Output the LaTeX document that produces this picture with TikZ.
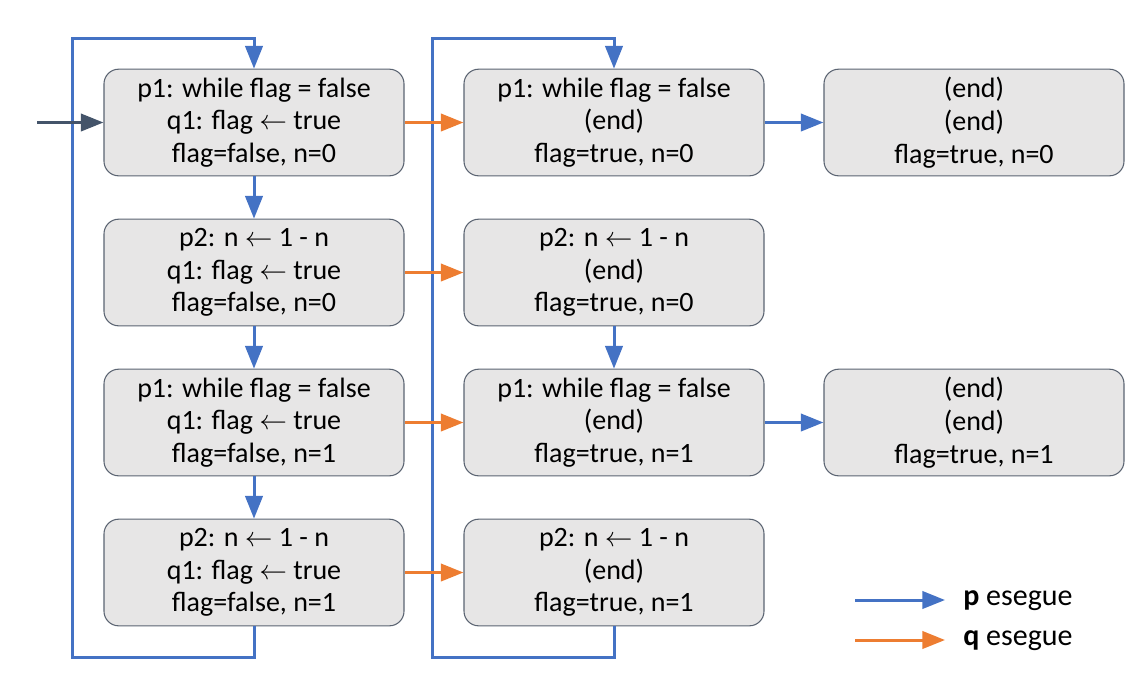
\documentclass[tikz,border=0pt]{standalone}
\usepackage{fontspec}
\setmainfont{Carlito}
\usetikzlibrary{arrows.meta}
\definecolor{pblue}{HTML}{4472C4}
\definecolor{qorange}{HTML}{ED7D31}
\definecolor{startgray}{HTML}{44546A}
\definecolor{boxfill}{HTML}{E7E6E6}
\definecolor{boxline}{HTML}{5B6472}
\tikzset{
  state/.style={draw=boxline, fill=boxfill, line width=0.8pt, rounded corners=11pt,
    minimum width=225pt, minimum height=80pt, align=center, inner sep=0pt,
    font=\fontsize{21}{24.5}\selectfont,
    execute at begin node={\rule{0pt}{24pt}}},
  tip/.style={-{Triangle[length=17pt,width=13pt]}},
  pmove/.style={draw=pblue, line width=2.25pt, tip},
  qmove/.style={draw=qorange, line width=2.25pt, tip},
  startmove/.style={draw=startgray, line width=2.25pt, tip},
  legend/.style={anchor=west, inner sep=0pt, font=\fontsize{22.5}{26}\selectfont}
}
\begin{document}
\begin{tikzpicture}[x=0.75pt, y=-0.75pt]
      \useasboundingbox (0,0) rectangle (1148,679);
      \draw
        (254,122.5) node[state] (s11) {p1: while flag = false\\ q1: flag $\leftarrow$ true\\ flag=false, n=0}
        (254,272.5) node[state] (s21) {p2: n $\leftarrow$ 1 - n\\ q1: flag $\leftarrow$ true\\ flag=false, n=0}
        (254,422.5) node[state] (s31) {p1: while flag = false\\ q1: flag $\leftarrow$ true\\ flag=false, n=1}
        (254,572.5) node[state] (s41) {p2: n $\leftarrow$ 1 - n\\ q1: flag $\leftarrow$ true\\ flag=false, n=1}
        (614,122.5) node[state] (s12) {p1: while flag = false\\ (end)\\ flag=true, n=0}
        (614,272.5) node[state] (s22) {p2: n $\leftarrow$ 1 - n\\ (end)\\ flag=true, n=0}
        (614,422.5) node[state] (s32) {p1: while flag = false\\ (end)\\ flag=true, n=1}
        (614,572.5) node[state] (s42) {p2: n $\leftarrow$ 1 - n\\ (end)\\ flag=true, n=1}
        (974,122.5) node[state] (s13) {(end)\\ (end)\\ flag=true, n=0}
        (974,422.5) node[state] (s33) {(end)\\ (end)\\ flag=true, n=1};
      \coordinate (start) at (37,122.5);
      \coordinate (l1bot) at (72,657);
      \coordinate (l1top) at (72,38);
      \coordinate (l2bot) at (432,657);
      \coordinate (l2top) at (432,38);
      \begin{scope}[pmove]
        \draw (s41.south) |- (l1bot) -- (l1top) -| (s11.north);
        \draw (s42.south) |- (l2bot) -- (l2top) -| (s12.north);
        \draw (s11) to (s21);
        \draw (s21) to (s31);
        \draw (s31) to (s41);
        \draw (s22) to (s32);
        \draw (s12) to (s13);
        \draw (s32) to (s33);
      \end{scope}
      \begin{scope}[qmove]
        \draw (s11) to (s12);
        \draw (s21) to (s22);
        \draw (s31) to (s32);
        \draw (s41) to (s42);
      \end{scope}
      \draw[startmove] (start) to (s11);
      % legend
      \coordinate (pkey) at (855,600);
      \coordinate (qkey) at (855,640);
      \node[legend] (ptext) at (963,601) {\textbf{p} esegue};
      \node[legend] (qtext) at (963,641) {\textbf{q} esegue};
      \draw[pmove, shorten >=13.5pt] (pkey) -- (ptext.west |- pkey);
      \draw[qmove, shorten >=13.5pt] (qkey) -- (qtext.west |- qkey);
    \end{tikzpicture}
\end{document}
